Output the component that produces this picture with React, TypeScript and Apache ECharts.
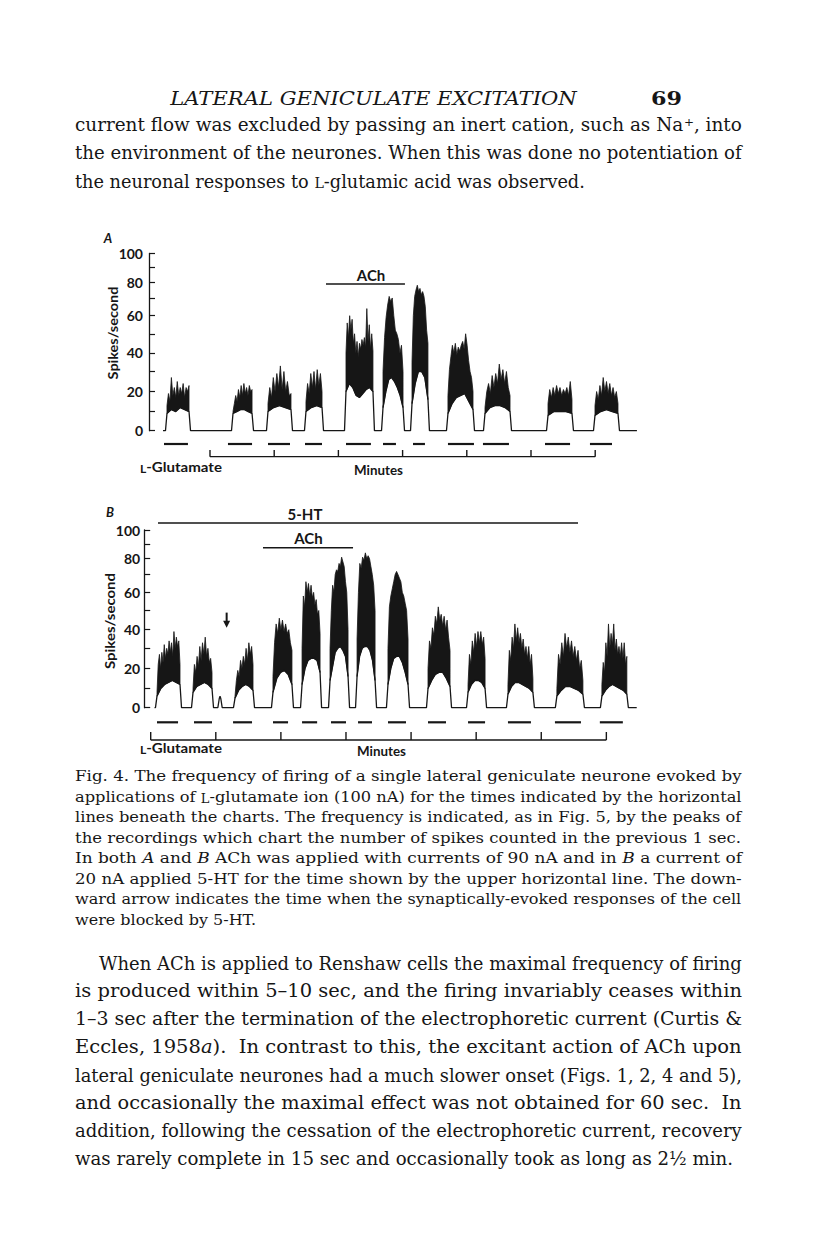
import React, { useEffect, useRef } from "react";
import * as echarts from "echarts";

// ---------------- DATA ----------------
const Y_TICK_LABELS = [0, 20, 40, 60, 80, 100];
const MINUTES_A = [0, 1, 2, 3, 4, 5, 6];
const MINUTES_B = [0, 1, 2, 3, 4, 5, 6, 7];

// Chart A – bursts of firing (time in s from start of minute scale)
const BURST_A_START = [-40.2, 21.5, 54.2, 89.7, 127.1, 161.7, 188.8, 222.4, 257.0, 315.9, 359.8];
const BURST_A_END = [-19.6, 39.3, 75.7, 104.7, 152.3, 180.4, 203.7, 245.8, 280.4, 338.3, 381.3];
const BURST_A_TOPS = [
  [13, 19, 15, 27, 18, 22, 17, 25, 18, 22, 19, 24, 17, 22, 20, 23],
  [10, 14, 18, 15, 21, 17, 23, 18, 24, 19, 22, 18, 23, 20, 21],
  [14, 22, 17, 27, 20, 29, 22, 33, 21, 30, 20, 25, 18, 19],
  [15, 24, 19, 29, 22, 30, 21, 31, 23, 29, 20],
  [40, 56, 48, 60, 52, 58, 45, 50, 40, 46, 38, 45, 42, 47, 44, 48, 43, 64, 46, 55, 42, 50, 41],
  [30, 48, 59, 66, 71, 68, 70, 60, 52, 50, 47, 40, 44, 30],
  [35, 60, 71, 75, 78, 74, 76, 72, 74, 71, 65, 52, 45],
  [18, 31, 38, 44, 40, 45, 39, 43, 41, 44, 46, 42, 50, 44, 36, 30, 27, 20],
  [12, 20, 24, 19, 28, 22, 29, 24, 34, 26, 31, 24, 30, 22, 18],
  [14, 21, 17, 22, 18, 23, 19, 22, 18, 21, 19, 22, 18, 25, 16],
  [13, 20, 16, 23, 18, 27, 20, 25, 19, 24, 18, 22, 17, 20, 14],
];
const BURST_A_LOWS = [
  [9, 11, 10, 12, 11, 10],
  [9, 10, 11, 11, 10, 9],
  [10, 12, 13, 12, 11],
  [10, 12, 13, 12],
  [20, 24, 22, 18, 17, 19, 21, 22, 20],
  [12, 20, 26, 27, 25, 22, 18, 12],
  [14, 24, 30, 30, 27, 16],
  [9, 14, 17, 18, 19, 15, 11],
  [9, 12, 13, 13, 12, 10],
  [8, 10, 10, 10, 9],
  [8, 10, 11, 10, 9],
];
const GLUT_A = [
  [-43, -20.6], [16.8, 39.3], [54.2, 74.8], [88.8, 104.7], [127.1, 150.4], [161.7, 173.8],
  [189.7, 200.9], [222.4, 246.7], [255.1, 279.4], [313.1, 336.5], [355.1, 375.7],
];
const DRUG_A_NAMES = ["ACh"];
const DRUG_A_SPANS = [[108.4, 182.2, 150.5]]; // start, end, label time

// Chart B
const BURST_B_START = [5.8, 39.0, 77.7, 112.7, 139.5, 165.3, 190.2, 218.7, 255.6, 292.5, 329.3, 374.4, 415.9];
const BURST_B_END = [27.0, 56.5, 94.3, 130.2, 156.1, 181.9, 206.8, 237.2, 275.9, 308.2, 352.3, 398.4, 438.9];
const BURST_B_TOPS = [
  [8, 22, 27, 20, 28, 23, 32, 25, 30, 27, 34, 28, 33, 26, 39, 30, 36, 31, 34, 22],
  [10, 22, 18, 26, 21, 31, 24, 33, 27, 36, 26, 30, 23, 25, 18],
  [6, 14, 19, 16, 24, 20, 26, 22, 30, 24, 33, 27, 31, 22],
  [16, 33, 43, 38, 46, 40, 45, 39, 43, 38, 40, 33, 29],
  [30, 58, 52, 66, 60, 65, 58, 64, 57, 60, 53, 56, 48, 50, 38],
  [30, 50, 64, 60, 70, 73, 72, 77, 75, 81, 78, 75, 66, 60, 40],
  [35, 60, 77, 74, 81, 79, 84, 80, 82, 80, 75, 70, 64, 50],
  [30, 52, 58, 62, 66, 70, 72, 70, 68, 66, 60, 58, 54, 50, 35],
  [20, 34, 30, 41, 37, 47, 43, 52, 45, 48, 42, 47, 40, 45, 36, 29],
  [12, 27, 22, 34, 28, 38, 31, 39, 33, 39, 32, 36, 25],
  [12, 29, 24, 36, 30, 43, 34, 41, 33, 38, 30, 35, 27, 31, 25, 31, 22, 27, 15],
  [10, 27, 22, 33, 26, 38, 30, 36, 28, 34, 26, 31, 24, 29, 20, 24, 14],
  [12, 23, 18, 33, 26, 43, 30, 38, 32, 43, 29, 35, 27, 31, 26, 33, 25, 33, 22, 26],
];
const BURST_B_LOWS = [
  [6, 10, 12, 13, 14, 13, 12],
  [8, 11, 12, 13, 12, 10],
  [5, 9, 11, 12, 11, 9],
  [8, 15, 18, 19, 17, 12],
  [12, 20, 24, 25, 25, 24, 18],
  [14, 21, 28, 30, 31, 29, 26, 16],
  [16, 26, 30, 31, 31, 29, 24, 14],
  [12, 20, 25, 26, 26, 23, 18, 12],
  [10, 14, 17, 18, 18, 15, 11],
  [8, 12, 14, 14, 13, 10],
  [7, 11, 13, 13, 12, 11, 10, 8],
  [6, 9, 11, 11, 10, 9, 7],
  [6, 9, 11, 12, 11, 10, 9, 7],
];
const BLIPS_B = [[63.9, 6]]; // time, spikes/s
const GLUT_B = [
  [5.8, 25.2], [39.9, 56.5], [75.9, 93.4], [112.7, 126.6], [139.5, 153.4], [166.2, 180.0], [191.1, 204.0],
  [218.7, 235.3], [255.6, 272.2], [292.5, 308.2], [329.3, 350.5], [372.6, 396.6], [414.0, 435.2],
];
const DRUG_B_NAMES = ["5-HT", "ACh"];
const DRUG_B_SPANS = [[6.7, 393.9, 142.2], [103.5, 186.5, 145.4]];
const ARROW_B = [[70, 48.9, 41]]; // time, top value, tip value

// Ratemeter paper: position (0–100 % of chart height) of every 10 spikes/s division
const SCALE_POS = [0, 10.8, 22.1, 33.4, 43.9, 54.7, 64.9, 74.9, 83.9, 92.0, 100];

// ---------------- TEXT ----------------
const HEADER = "LATERAL GENICULATE EXCITATION";
const PAGE_NO = "69";
const PARA1 = [
  "current flow was excluded by passing an inert cation, such as Na{sup|+}, into",
  "the environment of the neurones. When this was done no potentiation of",
  "the neuronal responses to {sc|L}-glutamic acid was observed.",
];
const CAPTION = [
  "Fig. 4. The frequency of firing of a single lateral geniculate neurone evoked by",
  "applications of {sc|L}-glutamate ion (100 nA) for the times indicated by the horizontal",
  "lines beneath the charts. The frequency is indicated, as in Fig. 5, by the peaks of",
  "the recordings which chart the number of spikes counted in the previous 1 sec.",
  "In both {i|A} and {i|B} ACh was applied with currents of 90 nA and in {i|B} a current of",
  "20 nA applied 5-HT for the time shown by the upper horizontal line. The down-",
  "ward arrow indicates the time when the synaptically-evoked responses of the cell",
  "were blocked by 5-HT.",
];
const PARA2 = [
  "When ACh is applied to Renshaw cells the maximal frequency of firing",
  "is produced within 5–10 sec, and the firing invariably ceases within",
  "1–3 sec after the termination of the electrophoretic current (Curtis &",
  "Eccles, 1958{i|a}).  In contrast to this, the excitant action of ACh upon",
  "lateral geniculate neurones had a much slower onset (Figs. 1, 2, 4 and 5),",
  "and occasionally the maximal effect was not obtained for 60 sec.  In",
  "addition, following the cessation of the electrophoretic current, recovery",
  "was rarely complete in 15 sec and occasionally took as long as 2½ min.",
];

// ---------------- HELPERS ----------------
const INK = "#161616";
const SERIF = '"DejaVu Serif", serif';
const SANS = 'Lato, "Open Sans", sans-serif';

function toChart(v: number) {
  const c = Math.max(0, Math.min(100, v));
  const i = Math.min(9, Math.floor(c / 10));
  return SCALE_POS[i] + ((c - i * 10) / 10) * (SCALE_POS[i + 1] - SCALE_POS[i]);
}

let _ctx: any = null;
function measure(text: string, font: string) {
  if (!_ctx) _ctx = document.createElement("canvas").getContext("2d");
  _ctx.font = font;
  return _ctx.measureText(text).width;
}

function parseSegs(s: string) {
  const out: [string, string][] = [];
  const re = /\{(\w+)\|([^}]*)\}/g;
  let last = 0;
  let m: any;
  while ((m = re.exec(s))) {
    if (m.index > last) out.push(["", s.slice(last, m.index)]);
    out.push([m[1], m[2]]);
    last = re.lastIndex;
  }
  if (last < s.length) out.push(["", s.slice(last)]);
  return out;
}

interface TOpt {
  size: number;
  family: string;
  italic?: boolean;
  weight?: string;
  width?: number;
  scale?: number;
  align?: string;
  rotation?: number;
}

function segStyle(key: string, o: TOpt) {
  let size = o.size;
  let style = o.italic ? "italic" : "normal";
  const weight = o.weight || "normal";
  if (key === "i") style = "italic";
  if (key === "sc") size = Math.round(o.size * 0.8 * 10) / 10;
  if (key === "sup") size = Math.round(o.size * 0.65 * 10) / 10;
  return { size, style, weight };
}

function natWidth(str: string, o: TOpt) {
  let w = 0;
  parseSegs(str).forEach(([k, t]) => {
    const st = segStyle(k, o);
    w += measure(t, `${st.style} ${st.weight} ${st.size}px ${o.family}`);
  });
  return w;
}

function textEl(str: string, x: number, y: number, o: TOpt) {
  const rich: any = {};
  parseSegs(str).forEach(([k]) => {
    if (!k) return;
    const st = segStyle(k, o);
    rich[k] = {
      fontSize: st.size,
      fontStyle: st.style,
      fontWeight: st.weight,
      fontFamily: o.family,
      fill: INK,
      verticalAlign: k === "sup" ? "top" : "bottom",
    };
  });
  const sx = o.width ? o.width / natWidth(str, o) : o.scale || 1;
  return {
    type: "text",
    x,
    y,
    scaleX: sx,
    rotation: o.rotation || 0,
    silent: true,
    style: {
      text: str,
      fontSize: o.size,
      fontFamily: o.family,
      fontStyle: o.italic ? "italic" : "normal",
      fontWeight: o.weight || "normal",
      fill: INK,
      align: o.align || "left",
      verticalAlign: "middle",
      rich,
    },
  };
}

// justified paragraph: lines with a width are stretched to it; the short last line
// is set a little tighter than the mean stretch (justified lines carry wider spaces)
function paragraph(els: any[], lines: string[], xs: number[], ys: number[], widths: (number | null)[], o: TOpt) {
  const nat = lines.map((t) => natWidth(t, o));
  const sc = lines.map((t, i) => (widths[i] ? (widths[i] as number) / nat[i] : null));
  const js = sc.filter((s) => s !== null) as number[];
  const avg = js.length ? js.reduce((a, b) => a + b, 0) / js.length : 1;
  lines.forEach((t, i) =>
    els.push(textEl(t, xs[i], ys[i], { ...o, scale: sc[i] === null ? avg * 0.97 : (sc[i] as number) }))
  );
}

function pageTexts() {
  const els: any[] = [];
  els.push(textEl(HEADER, 373.5, 99, { size: 18, family: SERIF, italic: true, width: 407, align: "center" }));
  els.push(textEl(PAGE_NO, 651, 99, { size: 19, family: SERIF, weight: "bold", width: 31 }));
  paragraph(els, PARA1, [75, 75, 75], [125, 153, 181], [667, 667, null], { size: 18, family: SERIF });
  const capY = [776, 797, 817, 838, 858, 879, 899, 920];
  paragraph(
    els,
    CAPTION,
    CAPTION.map(() => 75),
    capY,
    CAPTION.map((_, i) => (i === CAPTION.length - 1 ? null : 667)),
    { size: 15, family: SERIF }
  );
  paragraph(
    els,
    PARA2,
    PARA2.map((_, i) => (i === 0 ? 99 : 75)),
    PARA2.map((_, i) => 963 + i * 28),
    PARA2.map((_, i) => (i === 0 ? 643 : i === PARA2.length - 1 ? null : 667)),
    { size: 18, family: SERIF }
  );
  // chart texts
  const bold = { family: SANS, weight: "bold" };
  els.push(textEl("A", 108, 238, { size: 13, ...bold, italic: true, align: "center" }));
  els.push(textEl("B", 110, 512, { size: 13, ...bold, italic: true, align: "center" }));
  els.push(textEl("Spikes/second", 113, 333, { size: 14, ...bold, align: "center", rotation: Math.PI / 2, width: 93 }));
  els.push(textEl("Spikes/second", 110, 621, { size: 14, ...bold, align: "center", rotation: Math.PI / 2, width: 96 }));
  els.push(textEl("{sc|L}-Glutamate", 140, 467, { size: 14, ...bold, width: 82 }));
  els.push(textEl("{sc|L}-Glutamate", 140, 748, { size: 14, ...bold, width: 82 }));
  els.push(textEl("Minutes", 378.5, 469, { size: 14, ...bold, align: "center", width: 49 }));
  els.push(textEl("Minutes", 381.5, 750, { size: 14, ...bold, align: "center", width: 49 }));
  return els;
}

interface ChartCfg {
  left: number;
  width: number;
  xMin: number;
  xMax: number;
  mainTop: number;
  mainHeight: number;
  labelMargin: number;
  lowTop: number;
  lowHeight: number;
  barLevel: number;
  bracketLevel: number;
  tickTop: number;
  drugTop: number;
  drugHeight: number;
  drugLevels: number[];
  traceStart: number;
  traceEnd: number;
  starts: number[];
  ends: number[];
  tops: number[][];
  lows: number[][];
  blips: number[][];
  glut: number[][];
  minutes: number[];
  drugNames: string[];
  drugSpans: number[][];
  arrows: number[][];
}

function addChart(cfg: ChartCfg, opt: any) {
  const g = opt.grid.length;
  opt.grid.push(
    { left: cfg.left, top: cfg.mainTop, width: cfg.width, height: cfg.mainHeight },
    { left: cfg.left, top: cfg.lowTop, width: cfg.width, height: cfg.lowHeight },
    { left: cfg.left, top: cfg.drugTop, width: cfg.width, height: cfg.drugHeight }
  );
  for (let k = 0; k < 3; k++) {
    opt.xAxis.push({ gridIndex: g + k, type: "value", min: cfg.xMin, max: cfg.xMax, show: false });
  }
  const labelPos = Y_TICK_LABELS.map(toChart);
  opt.yAxis.push({
    gridIndex: g,
    type: "value",
    min: 0,
    max: 100,
    position: "left",
    axisLine: { show: true, onZero: false, lineStyle: { color: INK, width: 1.3 } },
    axisTick: { show: true, inside: true, length: 6, customValues: SCALE_POS, lineStyle: { color: INK, width: 1.2 } },
    axisLabel: {
      show: true,
      customValues: labelPos,
      formatter: (v: number) => {
        let best = 0;
        labelPos.forEach((p, k) => {
          if (Math.abs(p - v) < Math.abs(labelPos[best] - v)) best = k;
        });
        return String(Y_TICK_LABELS[best]);
      },
      color: INK,
      fontFamily: SANS,
      fontWeight: "bold",
      fontSize: 14,
      margin: cfg.labelMargin,
    },
    splitLine: { show: false },
  });
  opt.yAxis.push({ gridIndex: g + 1, type: "value", min: 0, max: cfg.lowHeight, inverse: true, show: false });
  opt.yAxis.push({ gridIndex: g + 2, type: "value", min: 0, max: cfg.drugHeight, inverse: true, show: false });

  // outline trace
  const items: any[] = [];
  cfg.starts.forEach((s, i) => items.push({ t: s, kind: "burst", i }));
  cfg.blips.forEach((b, i) => items.push({ t: b[0], kind: "blip", i }));
  items.sort((a, b) => a.t - b.t);
  const pts: number[][] = [[cfg.traceStart, 0]];
  items.forEach((it) => {
    if (it.kind === "blip") {
      const [t, v] = cfg.blips[it.i];
      pts.push([t - 2, 0], [t - 0.7, v * 0.8], [t, v], [t + 0.7, v * 0.8], [t + 2, 0]);
    } else {
      const s = cfg.starts[it.i];
      const e = cfg.ends[it.i];
      const L = cfg.lows[it.i];
      pts.push([s - 1.4, 0]);
      L.forEach((v, j) => pts.push([s + ((e - s) * j) / (L.length - 1), v]));
      pts.push([e + 1.4, 0]);
    }
  });
  pts.push([cfg.traceEnd, 0]);
  opt.series.push({
    type: "line",
    xAxisIndex: g,
    yAxisIndex: g,
    data: pts.map((p) => [p[0], toChart(p[1])]),
    showSymbol: false,
    symbol: "none",
    clip: false,
    silent: true,
    z: 3,
    lineStyle: { color: INK, width: 1.3 },
  });

  // spike bands
  opt.series.push({
    type: "custom",
    xAxisIndex: g,
    yAxisIndex: g,
    silent: true,
    z: 2,
    data: cfg.starts.map((s, i) => [s, cfg.ends[i], i]),
    encode: { x: [0, 1] },
    renderItem: (params: any, api: any) => {
      const i = params.dataIndex;
      const s = cfg.starts[i];
      const e = cfg.ends[i];
      const T = cfg.tops[i];
      const L = cfg.lows[i];
      const poly: number[][] = [];
      T.forEach((v, j) => poly.push(api.coord([s + ((e - s) * j) / (T.length - 1), toChart(v)])));
      for (let j = L.length - 1; j >= 0; j--) poly.push(api.coord([s + ((e - s) * j) / (L.length - 1), toChart(L[j])]));
      return {
        type: "polygon",
        shape: { points: poly },
        style: { fill: INK, stroke: INK, lineWidth: 0.8, lineJoin: "bevel" },
      };
    },
  });

  // arrows
  if (cfg.arrows.length) {
    opt.series.push({
      type: "custom",
      xAxisIndex: g,
      yAxisIndex: g,
      silent: true,
      z: 4,
      data: cfg.arrows,
      encode: { x: 0 },
      renderItem: (params: any, api: any) => {
        const a = cfg.arrows[params.dataIndex];
        const p1 = api.coord([a[0], toChart(a[1])]);
        const p2 = api.coord([a[0], toChart(a[2])]);
        return {
          type: "group",
          children: [
            { type: "line", shape: { x1: p1[0], y1: p1[1], x2: p2[0], y2: p2[1] - 5 }, style: { stroke: INK, lineWidth: 2 } },
            {
              type: "polygon",
              shape: { points: [[p2[0] - 3.5, p2[1] - 7], [p2[0] + 3.5, p2[1] - 7], [p2[0], p2[1]]] },
              style: { fill: INK },
            },
          ],
        };
      },
    });
  }

  // glutamate bars
  opt.series.push({
    type: "custom",
    xAxisIndex: g + 1,
    yAxisIndex: g + 1,
    silent: true,
    data: cfg.glut,
    encode: { x: [0, 1] },
    renderItem: (params: any, api: any) => {
      const b = cfg.glut[params.dataIndex];
      const p1 = api.coord([b[0], cfg.barLevel]);
      const p2 = api.coord([b[1], cfg.barLevel]);
      return { type: "line", shape: { x1: p1[0], y1: p1[1], x2: p2[0], y2: p2[1] }, style: { stroke: INK, lineWidth: 2.2 } };
    },
  });

  // time bracket (minutes)
  opt.series.push({
    type: "custom",
    xAxisIndex: g + 1,
    yAxisIndex: g + 1,
    silent: true,
    data: [[cfg.minutes[0] * 60, cfg.minutes[cfg.minutes.length - 1] * 60]],
    encode: { x: [0, 1] },
    renderItem: (params: any, api: any) => {
      const xs = cfg.minutes.map((m) => api.coord([m * 60, cfg.bracketLevel]));
      const yTop = api.coord([0, cfg.tickTop])[1];
      const children: any[] = [
        {
          type: "line",
          shape: { x1: xs[0][0], y1: xs[0][1], x2: xs[xs.length - 1][0], y2: xs[0][1] },
          style: { stroke: INK, lineWidth: 1.3 },
        },
      ];
      xs.forEach((p: number[]) =>
        children.push({ type: "line", shape: { x1: p[0], y1: p[1], x2: p[0], y2: yTop }, style: { stroke: INK, lineWidth: 1.4 } })
      );
      return { type: "group", children };
    },
  });

  // drug application lines
  opt.series.push({
    type: "custom",
    xAxisIndex: g + 2,
    yAxisIndex: g + 2,
    silent: true,
    data: cfg.drugSpans,
    encode: { x: [0, 1] },
    renderItem: (params: any, api: any) => {
      const i = params.dataIndex;
      const d = cfg.drugSpans[i];
      const lvl = cfg.drugLevels[i];
      const p1 = api.coord([d[0], lvl]);
      const p2 = api.coord([d[1], lvl]);
      const pl = api.coord([d[2], lvl]);
      return {
        type: "group",
        children: [
          { type: "line", shape: { x1: p1[0], y1: p1[1], x2: p2[0], y2: p2[1] }, style: { stroke: INK, lineWidth: 1.6 } },
          {
            type: "text",
            x: pl[0],
            y: pl[1] - 2,
            style: {
              text: cfg.drugNames[i],
              fontFamily: SANS,
              fontWeight: "bold",
              fontSize: 15,
              fill: INK,
              align: "center",
              verticalAlign: "bottom",
            },
          },
        ],
      };
    },
  });
}

function buildOption() {
  const opt: any = {
    animation: false,
    backgroundColor: "#ffffff",
    grid: [],
    xAxis: [],
    yAxis: [],
    series: [],
  };
  addChart(
    {
      left: 149,
      width: 489,
      xMin: -57,
      xMax: 400,
      mainTop: 253.5,
      mainHeight: 177.2,
      labelMargin: 6,
      lowTop: 436,
      lowHeight: 26,
      barLevel: 8,
      bracketLevel: 20.7,
      tickTop: 14,
      drugTop: 265,
      drugHeight: 25,
      drugLevels: [19],
      traceStart: -43.9,
      traceEnd: 399,
      starts: BURST_A_START,
      ends: BURST_A_END,
      tops: BURST_A_TOPS,
      lows: BURST_A_LOWS,
      blips: [],
      glut: GLUT_A,
      minutes: MINUTES_A,
      drugNames: DRUG_A_NAMES,
      drugSpans: DRUG_A_SPANS,
      arrows: [],
    },
    opt
  );
  addChart(
    {
      left: 144.2,
      width: 494.7,
      xMin: -6,
      xMax: 450,
      mainTop: 530,
      mainHeight: 177.7,
      labelMargin: 4,
      lowTop: 714,
      lowHeight: 30,
      barLevel: 8.3,
      bracketLevel: 26,
      tickTop: 18,
      drugTop: 500,
      drugHeight: 55,
      drugLevels: [23, 47.7],
      traceStart: 3.5,
      traceEnd: 448,
      starts: BURST_B_START,
      ends: BURST_B_END,
      tops: BURST_B_TOPS,
      lows: BURST_B_LOWS,
      blips: BLIPS_B,
      glut: GLUT_B,
      minutes: MINUTES_B,
      drugNames: DRUG_B_NAMES,
      drugSpans: DRUG_B_SPANS,
      arrows: ARROW_B,
    },
    opt
  );
  opt.graphic = { elements: pageTexts() };
  return opt;
}

export default function App() {
  const ref = useRef<HTMLDivElement>(null);
  useEffect(() => {
    const chart = echarts.init(ref.current as HTMLDivElement, null, { renderer: "svg" });
    chart.setOption(buildOption());
    return () => chart.dispose();
  }, []);
  return (
    <div
      ref={ref}
      style={{ position: "absolute", left: 0, top: 0, width: 816, height: 1258, background: "#ffffff" }}
    />
  );
}
